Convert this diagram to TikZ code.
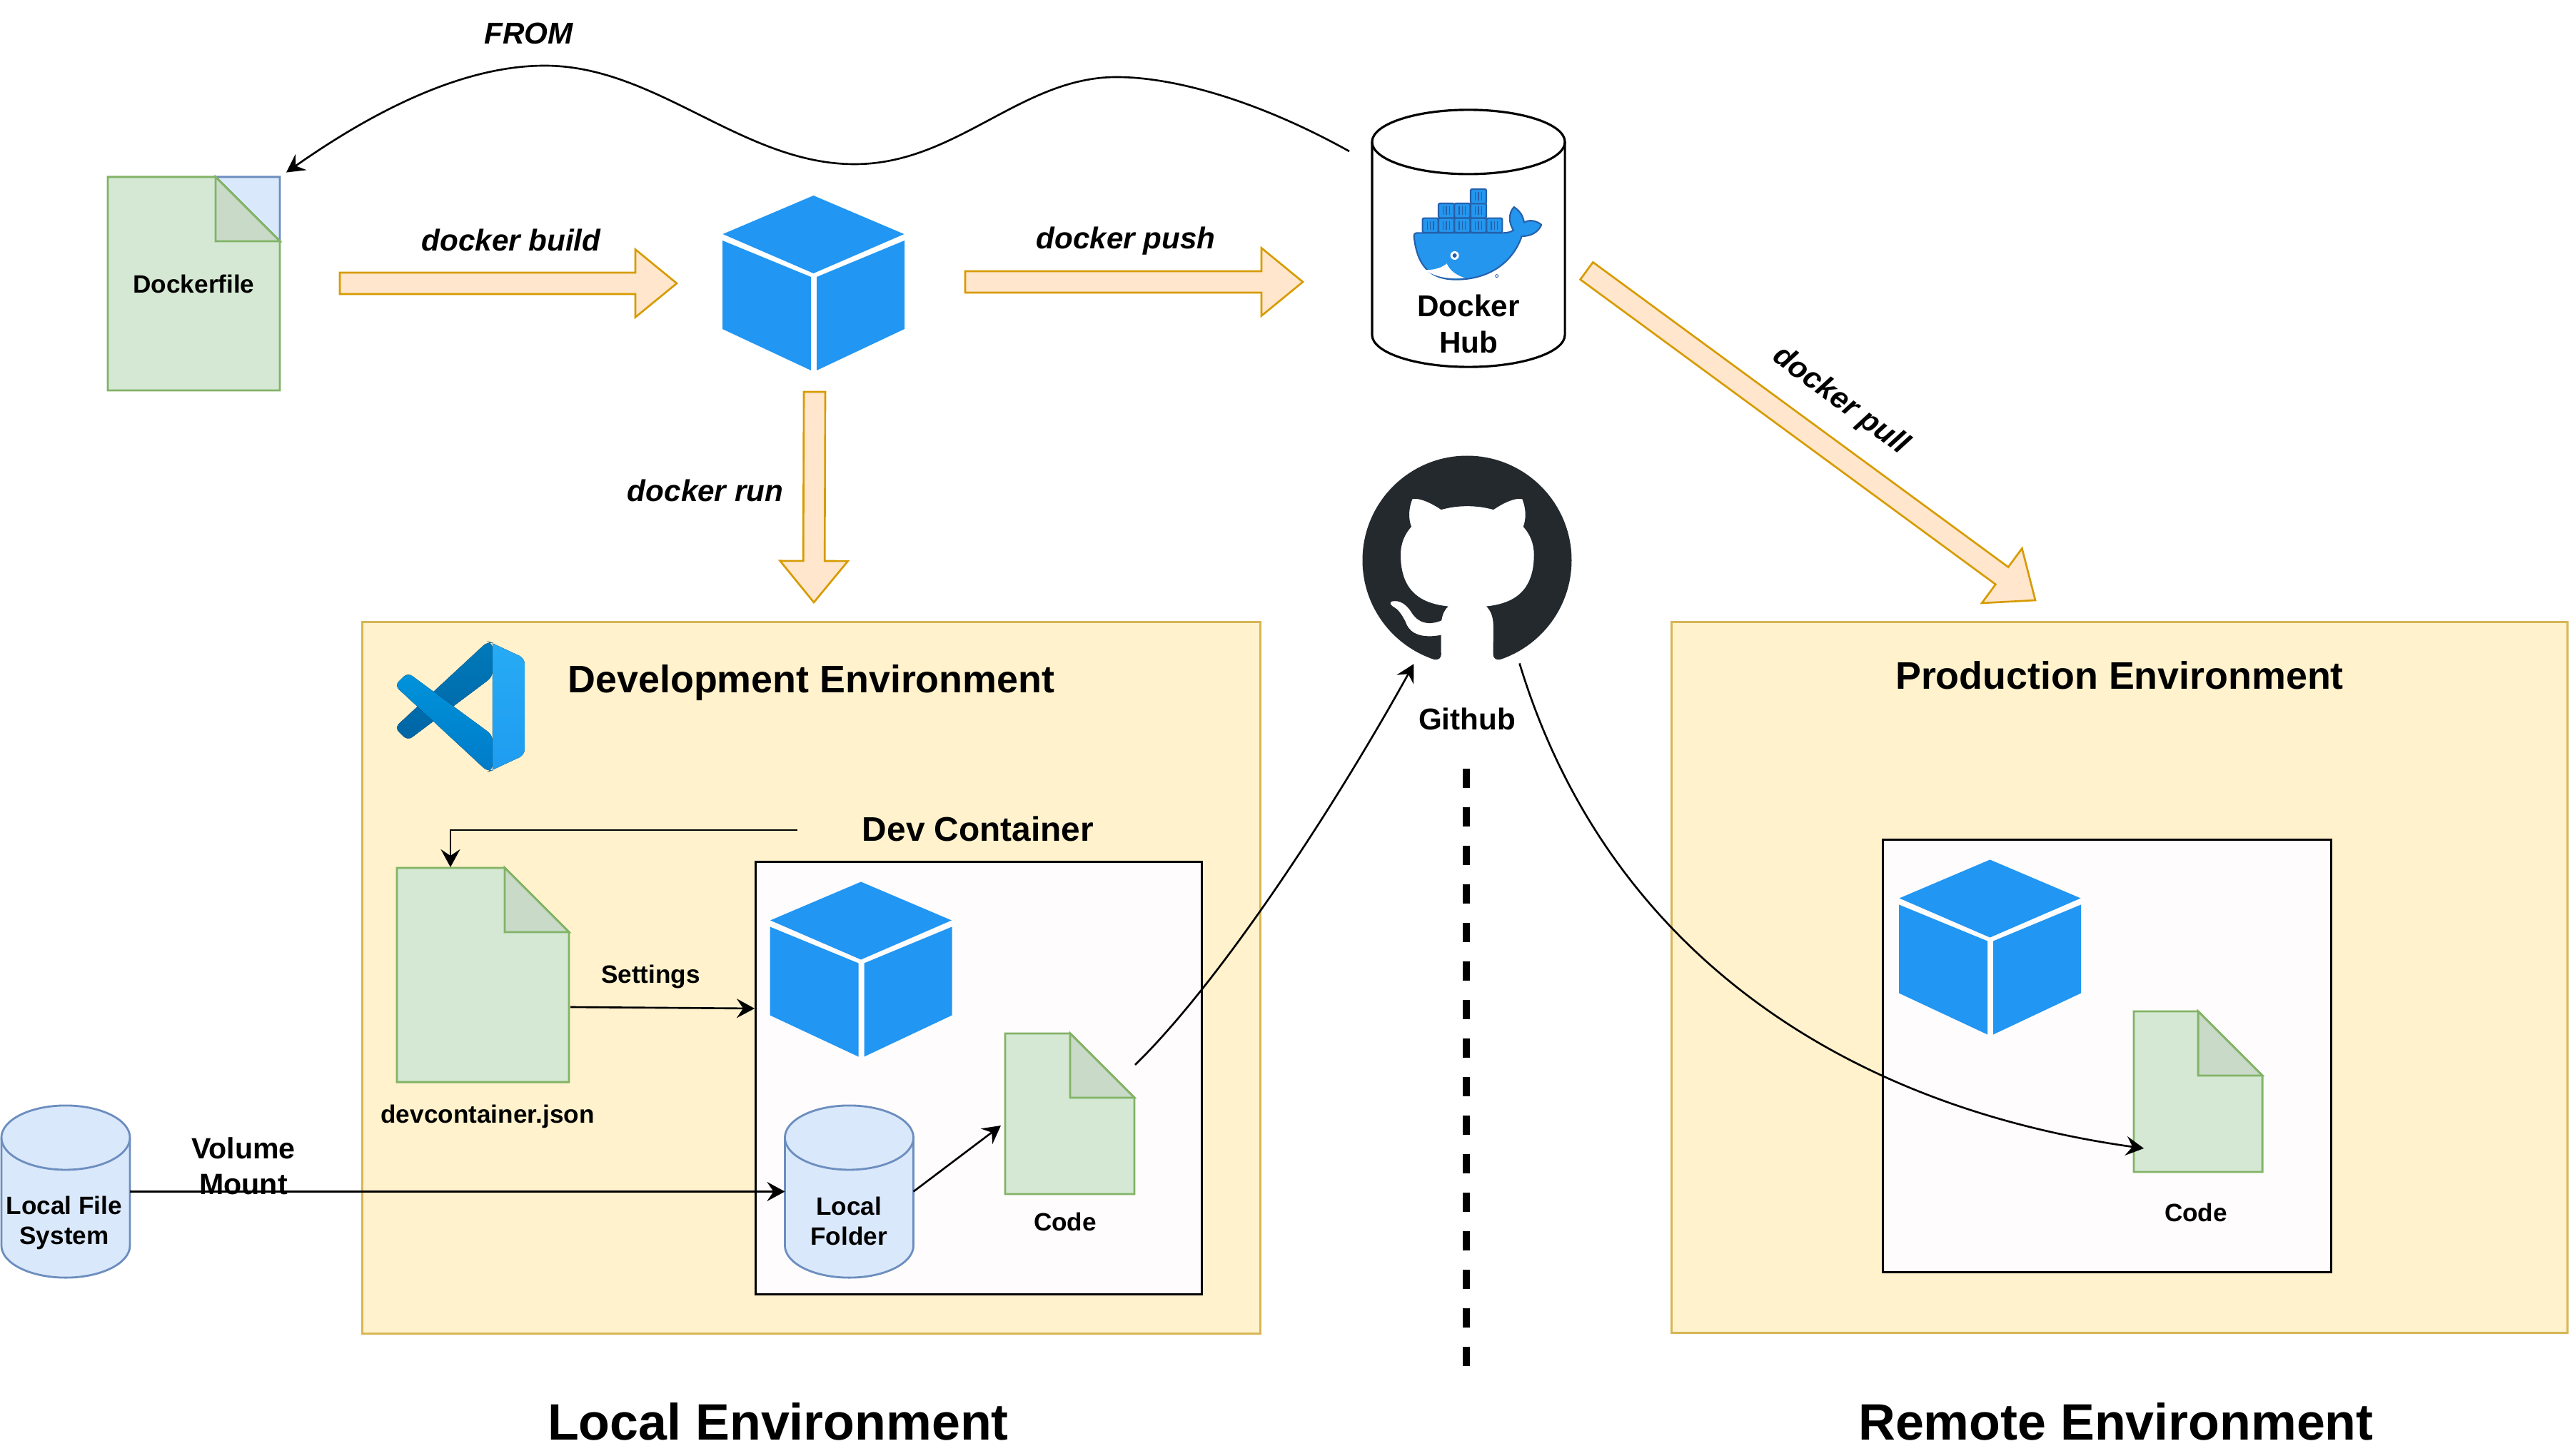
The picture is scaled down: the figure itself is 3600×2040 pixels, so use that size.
\documentclass[tikz,border=0pt]{standalone}
\usepackage{fontspec}
\setmainfont{Liberation Sans}
\usetikzlibrary{arrows.meta, positioning, calc, svg.path}
\definecolor{envfill}{HTML}{FFF2CC}
\definecolor{envline}{HTML}{D6B656}
\definecolor{boxfill}{HTML}{FFFCFD}
\definecolor{docfill}{HTML}{D5E8D4}
\definecolor{docline}{HTML}{82B366}
\definecolor{docfold}{HTML}{C9DAC8}
\definecolor{cylfill}{HTML}{DAE8FC}
\definecolor{cylline}{HTML}{6C8EBF}
\definecolor{bigfill}{HTML}{FFE6CC}
\definecolor{bigline}{HTML}{D79B00}
\definecolor{cubeblue}{HTML}{2196F3}
\definecolor{whaleblue}{HTML}{2496ED}
\definecolor{whaleline}{HTML}{2560AB}
\definecolor{gitdark}{HTML}{24292E}
\definecolor{vsbacktop}{HTML}{007ABB}
\definecolor{vsbackend}{HTML}{0065A5}
\definecolor{vsfronttop}{HTML}{0093DB}
\definecolor{vsfrontend}{HTML}{007BC8}
\definecolor{vssidetop}{HTML}{27ABF5}
\definecolor{vssideend}{HTML}{1F9CF0}
\tikzset{
  lab/.style={inner sep=0pt, align=center, font=\fontsize{10}{12}\selectfont\bfseries},
  hublab/.style={inner sep=0pt, align=center, font=\fontsize{12}{14.6}\selectfont\bfseries},
  cmdlab/.style={inner sep=0pt, align=center, font=\fontsize{12}{14}\selectfont\bfseries\itshape},
  envlab/.style={inner sep=0pt, font=\fontsize{15.3}{18}\selectfont\bfseries},
  sidelab/.style={inner sep=0pt, font=\fontsize{20.4}{24}\selectfont\bfseries},
  envbox/.style={rectangle, draw=envline, fill=envfill, line width=.85pt, inner sep=0pt, outer sep=0pt},
  devbox/.style={rectangle, draw=black, fill=boxfill, line width=.9pt, inner sep=0pt, outer sep=0pt},
  docbox/.style={rectangle, inner sep=0pt, outer sep=0pt},
  cubebox/.style={rectangle, inner sep=0pt, minimum width=2.55cm, minimum height=2.45cm},
  cylbox/.style={rectangle, inner sep=0pt, outer sep=0pt, minimum width=1.8cm, minimum height=2.41cm},
  cylline/.style={draw=cylline, fill=cylfill, line width=.8pt},
  hubline/.style={draw=black, fill=white, line width=.9pt},
  arrow/.style={->, >={Stealth[length=.25cm, width=.27cm, inset=.09cm]}, line width=.75pt},
  bigarrow/.style={draw=bigline, fill=bigfill, line width=.75pt, to path={
    ($(\tikztostart)!.15cm!90:(\tikztotarget)$)
    -- ($($(\tikztotarget)!.58cm!(\tikztostart)$)!.15cm!90:(\tikztotarget)$)
    -- ($($(\tikztotarget)!.58cm!(\tikztostart)$)!.475cm!90:(\tikztotarget)$)
    -- (\tikztotarget)
    -- ($($(\tikztotarget)!.58cm!(\tikztostart)$)!.475cm!-90:(\tikztotarget)$)
    -- ($($(\tikztotarget)!.58cm!(\tikztostart)$)!.15cm!-90:(\tikztotarget)$)
    -- ($(\tikztostart)!.15cm!-90:(\tikztotarget)$) -- cycle}},
}
\newcommand{\foldpage}[1]{
  \draw[draw=docline, fill=docfill, line width=.8pt] (#1.north west)
    -- ($(#1.north east)+(-90,0)$) -- ($(#1.north east)+(0,90)$)
    -- (#1.south east) -- (#1.south west) -- cycle;
  \draw[draw=docline, fill=docfold, line width=.8pt] ($(#1.north east)+(-90,0)$)
    -- ($(#1.north east)+(0,90)$) -- ($(#1.north east)+(-90,90)$) -- cycle;
}
\newcommand{\cubeicon}[1]{
  \begin{scope}[shift={(#1.center)}]
    \fill[cubeblue] (0,-122.5) -- (127,-68.5) -- (0,-13.5) -- (-127,-68.5) -- cycle;
    \fill[cubeblue] (-127.5,-59.5) -- (-3.5,-8.5) -- (-3.5,122.5) -- (-127.5,64.5) -- cycle;
    \fill[cubeblue] (127.5,-59.5) -- (4.5,-8.5) -- (4.5,122.5) -- (127.5,64.5) -- cycle;
  \end{scope}
}
% #1 line style, #2 node, #3 x radius
\newcommand{\canshape}[3]{
  \draw[#1] ($(#2.north west)+(0,45)$) arc[start angle=180, end angle=0, x radius=#3, y radius=.45cm]
    -- ($(#2.south east)+(0,-45)$) arc[start angle=0, end angle=-180, x radius=#3, y radius=.45cm] -- cycle;
  \draw[#1, fill=none] ($(#2.north west)+(0,45)$) arc[start angle=180, end angle=360, x radius=#3, y radius=.45cm];
}
\begin{document}
\begin{tikzpicture}[x=.01cm, y=-.01cm]
  \useasboundingbox (0,0) rectangle (3600,2040);

  \node[envbox, minimum width=12.57cm, minimum height=9.96cm] (devenv) at (1136.5,1370) {};
  \node[envbox, minimum width=12.54cm, minimum height=9.95cm] (prodenv) at (2969,1369.5) {};
  \node[devbox, minimum width=6.25cm, minimum height=6.05cm] (devcontainer) at (1371,1510.5) {};
  \node[devbox, minimum width=6.27cm, minimum height=6.05cm] (prodcontainer) at (2951.5,1479.5) {};
  \node[envlab] (devtitle) at (1136.5,957) {Development Environment};
  \node[envlab] (prodtitle) at (2969,946) {Production Environment};
  \node[sidelab] (localside) at (1090,1992) {Local Environment};
  \node[sidelab] (remoteside) at (2964,1992) {Remote Environment};

  % files
  \node[docbox, minimum width=2.41cm, minimum height=2.99cm] (dockerfile) at (271.5,397.5) {};
  \draw[draw=cylline, fill=cylfill, line width=.8pt] ($(dockerfile.north east)+(-90,0)$)
    -- (dockerfile.north east) -- ($(dockerfile.north east)+(0,90)$) -- cycle;
  \foldpage{dockerfile}
  \node[lab] (dockerfilelab) at (dockerfile) {Dockerfile};
  \node[docbox, minimum width=2.41cm, minimum height=3.0cm] (devjson) at (676.5,1366) {};
  \foldpage{devjson}
  \node[lab, below=.31cm of devjson, xshift=.065cm] (devjsonlab) {devcontainer.json};
  \node[docbox, minimum width=1.81cm, minimum height=2.25cm] (devcode) at (1498.5,1560.5) {};
  \foldpage{devcode}
  \node[lab, below=.25cm of devcode, xshift=-.065cm] (devcodelab) {Code};
  \node[docbox, minimum width=1.8cm, minimum height=2.25cm] (prodcode) at (3079,1529.5) {};
  \foldpage{prodcode}
  \node[lab, below=.43cm of prodcode, xshift=-.03cm] (prodcodelab) {Code};

  % images
  \node[cubebox] (imagecube) at (1139.5,396.5) {};
  \node[cubebox] (devcube) at (1206,1358) {};
  \node[cubebox] (prodcube) at (2787.5,1327) {};
  \cubeicon{imagecube}
  \cubeicon{devcube}
  \cubeicon{prodcube}

  % stores
  \node[cylbox] (localfs) at (92,1669.5) {};
  \canshape{cylline}{localfs}{.9cm}
  \node[lab] (localfslab) at (90,1713) {Local File\\System};
  \node[cylbox] (localfolder) at (1189.5,1669.5) {};
  \canshape{cylline}{localfolder}{.9cm}
  \node[lab] (localfolderlab) at (1189,1711) {Local\\Folder};
  \node[cylbox, minimum width=2.7cm, minimum height=3.6cm] (dockerhub) at (2057,334) {};
  \canshape{hubline}{dockerhub}{1.35cm}
  \node[hublab] (dockerhublab) at (2057,454) {Docker\\Hub};
  \begin{scope}[shift={(1850,130)}, scale=.3333]
    \draw[draw=whaleline, fill=whaleblue, line width=.6pt, line join=round]
      (392,603) .. controls (392,592) and (398,589) .. (408,589) -- (770,589)
      .. controls (785,589) and (798,585) .. (810,578)
      .. controls (792,550) and (786,510) .. (812,480)
      .. controls (835,495) and (850,515) .. (855,545)
      .. controls (880,530) and (910,540) .. (928,555)
      .. controls (912,590) and (880,603) .. (845,603)
      .. controls (805,720) and (700,785) .. (570,785)
      .. controls (460,785) and (405,730) .. (392,603) -- cycle;
    \fill[white] (440,745) .. controls (480,745) and (510,735) .. (530,718)
      .. controls (540,745) and (570,768) .. (605,778)
      .. controls (540,785) and (480,775) .. (440,745) -- cycle;
    \fill[white] (563,684) circle[radius=18];
    \fill[whaleline] (563,684) circle[radius=9];
    \draw[whaleline, line width=.25pt] (740,770) circle[radius=6];
    \foreach \cx/\cy in {428/527, 495/527, 562/527, 630/527, 697/527, 495/465, 562/465, 630/465, 630/405} {
      \draw[draw=whaleline, fill=whaleblue, line width=.6pt, rounded corners=.02cm] (\cx,\cy) rectangle +(66,61);
      \foreach \k in {20,33,46}
        \draw[whaleline, line width=.4pt] (\cx+\k,\cy+12) -- (\cx+\k,\cy+48);
    }
  \end{scope}

  % vs code
  \begin{scope}[shift={(520,880)}, scale=.3333]
    \fill[top color=vsbacktop, bottom color=vsbackend, rounded corners=.08cm]
      (98.6,418.6) -- (153,473) -- (510,205) -- (510,62) -- (490,56) -- cycle;
    \fill[top color=vsfronttop, bottom color=vsfrontend, rounded corners=.08cm]
      (98.6,241.4) -- (153,187) -- (510,450) -- (510,598) -- (490,604) -- cycle;
    \fill[top color=vssidetop, bottom color=vssideend] (510,64) [rounded corners=.08cm] -- (645,127)
      -- (645,533) [sharp corners] -- (510,596) -- cycle;
  \end{scope}

  % github
  \node[circle, inner sep=0pt, minimum size=2.93cm] (github) at (2055,785) {};
  \begin{scope}[shift={(1908.5,638.5)}, xscale=5.207, yscale=-5.207]
    \fill[gitdark] svg {M 8 0 C 3.58 0 0 3.58 0 8 c 0 3.54 2.29 6.53 5.47 7.59 c 0.4 0.07 0.55 -0.17 0.55 -0.38 c 0 -0.19 -0.01 -0.82 -0.01 -1.49 c -2.01 0.37 -2.53 -0.49 -2.69 -0.94 c -0.09 -0.23 -0.48 -0.94 -0.82 -1.13 c -0.28 -0.15 -0.68 -0.52 -0.01 -0.53 c 0.63 -0.01 1.08 0.58 1.23 0.82 c 0.72 1.21 1.87 0.87 2.33 0.66 c 0.07 -0.52 0.28 -0.87 0.51 -1.07 c -1.78 -0.2 -3.64 -0.89 -3.64 -3.95 c 0 -0.87 0.31 -1.59 0.82 -2.15 c -0.08 -0.2 -0.36 -1.02 0.08 -2.12 c 0 0 0.67 -0.21 2.2 0.82 c 0.64 -0.18 1.32 -0.27 2 -0.27 c 0.68 0 1.36 0.09 2 0.27 c 1.53 -1.04 2.2 -0.82 2.2 -0.82 c 0.44 1.1 0.16 1.92 0.08 2.12 c 0.51 0.56 0.82 1.28 0.82 2.15 c 0 3.07 -1.87 3.75 -3.65 3.95 c 0.29 0.25 0.54 0.73 0.54 1.48 c 0 1.07 -0.01 1.93 -0.01 2.2 c 0 0.21 0.15 0.46 0.55 0.38 C 13.71 14.53 16 11.53 16 8 c 0 -4.42 -3.58 -8 -8 -8 z};
  \end{scope}
  \node[hublab, below=.59cm of github] (githublab) {Github};
  \coordinate (divtop) at (2054,1077);
  \coordinate (divend) at (2054,1914);
  \draw[line width=.093cm, dash pattern=on .27cm off .27cm] (divtop) -- (divend);

  % docker commands
  \coordinate (buildtail) at (476,397);
  \coordinate (buildtip) at (948,397);
  \coordinate (pushtail) at (1352,395);
  \coordinate (pushtip) at (1825,395);
  \coordinate (runtail) at (1141,549);
  \coordinate (runtip) at (1140,844);
  \coordinate (pulltail) at (2222.5,379.5);
  \coordinate (pulltip) at (2851,841);
  \draw[bigarrow] (buildtail) to (buildtip);
  \draw[bigarrow] (pushtail) to (pushtip);
  \draw[bigarrow] (runtail) to (runtip);
  \draw[bigarrow] (pulltail) to (pulltip);
  \node[cmdlab] (buildlab) at (716,336) {docker build};
  \node[cmdlab] (pushlab) at (1577,338) {docker push};
  \node[cmdlab] (runlab) at (988,687) {docker run};
  \node[cmdlab, rotate=-36.5] (pulllab) at (2578,562) {docker pull};
  \node[cmdlab] (fromlab) at (740.5,47) {FROM};

  \coordinate (hubout) at (1890,212);
  \draw[arrow, shorten >=.11cm] (hubout) .. controls (1770,145) and (1650,108) .. (1564,108)
    .. controls (1430,108) and (1340,230) .. (1197,230)
    .. controls (1040,230) and (920,92) .. (763,92)
    .. controls (640,92) and (510,165) .. (dockerfile.north east);

  \node[hublab, font=\fontsize{11.7}{14.2}\selectfont\bfseries] (volumelab) at (341,1634) {Volume\\Mount};
  \draw[arrow] (localfs.east) -- (localfolder.west);
  \coordinate (codein) at (1402,1577);
  \draw[arrow] (localfolder.east) -- (codein);
  \coordinate (jsonout) at (799,1411);
  \coordinate (settingsin) at (1057,1413);
  \draw[arrow] (jsonout) -- (settingsin);
  \node[lab] (settingslab) at (911.5,1368) {Settings};
  \node[envlab, font=\fontsize{13.6}{16}\selectfont\bfseries] (containerlab) at (1370,1161) {Dev Container};
  \coordinate (containerout) at (1117,1163);
  \coordinate (jsonin) at (631,1215);
  \draw[arrow] (containerout) -| (jsonin);

  \coordinate (codeout) at (1590,1492);
  \draw[arrow, shorten >=.16cm] (codeout) .. controls (1710,1375) and (1870,1130) .. (github.243);
  \coordinate (prodin) at (3003,1609);
  \draw[arrow, shorten <=.15cm] (github.-62.6) .. controls (2250,1330) and (2580,1550) .. (prodin);
\end{tikzpicture}
\end{document}
